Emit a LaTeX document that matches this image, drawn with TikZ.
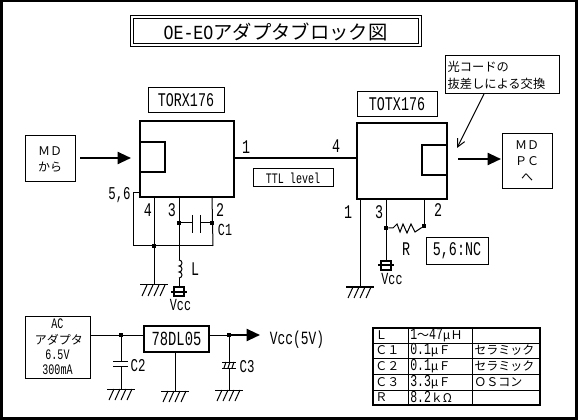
\documentclass[tikz,border=0pt]{standalone}
\usepackage{fontspec}
\usepackage{tikz}
\usetikzlibrary{arrows.meta}
\setmainfont[FakeStretch=0.69]{Liberation Mono}
\newfontfamily\wide[FakeStretch=0.83]{Liberation Mono}
\newfontfamily\jp{Noto Sans CJK JP}
\def\px{.75pt}
\newcommand{\fs}[1]{\fontsize{#1}{13}\selectfont}
\newcommand{\fsl}[2]{\fontsize{#1}{#2}\selectfont}
\tikzset{
    wire/.style={line width=\px},
    chip/.style={draw, line width=2*\px, inner sep=0pt},
    box/.style={draw, line width=\px, inner sep=0pt, align=center},
    lbl/.style={inner sep=0pt, font=\fs{14.5}},
    small/.style={inner sep=0pt, font=\fs{12.7}},
    dotnode/.style={fill, inner sep=0pt, minimum size=4*\px},
    flow/.style={line width=2*\px, -{Triangle[length=10pt,width=9pt]}},
}
\begin{document}
\begin{tikzpicture}[x=.75pt,y=-.75pt]
    \useasboundingbox (0,0) rectangle (578,420);
    \draw[line width=3*\px] (1,1) rectangle (576.5,418.5);

    % title
    \node[box, minimum width=291*\px, minimum height=31*\px] (titleouter) at (275.5,31.5) {};
    \node[box, minimum width=285*\px, minimum height=25*\px, font=\wide\fs{15}] (title) at (275.5,31.5) {OE-EO{\jp\fs{14.5}アダプタブロック図}};

    % receiver side
    \node[box, minimum width=50*\px, minimum height=46*\px, font=\jp\fsl{9}{12}] (mdin) at (50,159) {ＭＤ\\から};
    \node[box, minimum width=76*\px, minimum height=25*\px, font=\fs{14.5}] (rxname) at (186,100.5) {TORX176};
    \node[chip, minimum width=94*\px, minimum height=76*\px] (rx) at (187,159) {};
    \node[chip, minimum width=25*\px, minimum height=30*\px] (rxport) at (152.5,157) {};
    \coordinate (inS) at (80,158);
    \coordinate (inE) at (131,158);
    \draw[flow] (inS) -- (inE);

    % transmitter side
    \node[box, minimum width=80*\px, minimum height=25*\px, font=\fs{14.5}] (txname) at (397,104.5) {TOTX176};
    \node[chip, minimum width=90*\px, minimum height=76*\px] (tx) at (402,161) {};
    \node[chip, minimum width=25*\px, minimum height=30*\px] (txport) at (434.5,160) {};
    \node[box, minimum width=50*\px, minimum height=55*\px, font=\jp\fsl{9}{12}] (mdout) at (527,161.5) {ＭＤ\\ＰＣ\\へ};
    \coordinate (outS) at (458,159);
    \coordinate (outE) at (501,159);
    \draw[flow] (outS) -- (outE);
    \node[box, minimum width=114*\px, minimum height=38*\px, text width=109*\px, font=\jp\fsl{9.2}{12.8}, align=left] (note) at (502,75) {光コードの\\抜差しによる交換};
    \coordinate (noteS) at (484,94);
    \coordinate (noteE) at (457,148);
    \draw[wire,-{Straight Barb[length=6pt,width=6pt]}] (noteS) -- (noteE);

    % ttl link
    \draw[line width=2*\px] (rx.east |- 0,158.5) -- (tx.west |- 0,158.5);
    \node[box, minimum width=80*\px, minimum height=18*\px, font=\fs{10.9}] (ttl) at (293,178) {TTL level};
    \node[lbl] (pinA) at (246,147) {1};
    \node[lbl] (pinB) at (336,146) {4};

    % pins of the receiver
    \coordinate (rxfour) at (154,197);
    \coordinate (rxthree) at (179,197);
    \coordinate (rxtwo) at (212,197);
    \coordinate (rxsix) at (139,193);
    \coordinate (busL) at (133,246);
    \coordinate (busR) at (213,246);
    \coordinate (gndA) at (154,285);
    \coordinate (coilT) at (179,260);
    \coordinate (coilB) at (179,278);
    \coordinate (vccA) at (179,287);
    \coordinate (capL) at (192,223);
    \coordinate (capR) at (200,223);
    \node[dotnode] (dotC) at (179,223) {};
    \node[dotnode] (dotD) at (212,223) {};
    \node[dotnode] (dotB) at (154,246) {};
    \draw[wire] (rxfour) -- (gndA);
    \draw[wire] (rxthree) -- (coilT);
    \draw[wire] (rxtwo) -- (busR);
    \draw[wire] (rxsix) -| (busL) -- (busR);
    \draw[wire] (dotC) -- (capL);
    \draw[wire] (capR) -- (dotD);
    \draw[wire] (192,215) -- (192,233);
    \draw[wire] (200,215) -- (200,233);
    \draw[wire] (coilT) arc[start angle=-90,end angle=90,radius=3] arc[start angle=-90,end angle=90,radius=3] arc[start angle=-90,end angle=90,radius=3];
    \draw[wire] (coilB) -- (vccA);
    \node[small, font=\fs{13.5}] (lblsix) at (119.5,195) {5,6};
    \node[lbl] (lblfour) at (148,210) {4};
    \node[lbl] (lblthree) at (172,210) {3};
    \node[lbl] (lbltwo) at (220,210) {2};
    \node[small] (lblca) at (225,230) {C1};
    \node[lbl] (lblL) at (195,269) {L};
    \node[small] (vcca) at (180.5,305) {Vcc};

    % pins of the transmitter
    \coordinate (txone) at (360,199);
    \coordinate (txthree) at (386,199);
    \coordinate (txtwo) at (424,199);
    \coordinate (gndB) at (360,287);
    \coordinate (vccB) at (386,261);
    \node[dotnode] (dotE) at (386,228) {};
    \node[dotnode] (dotF) at (424,226) {};
    \draw[wire] (txone) -- (gndB);
    \draw[wire] (txthree) -- (vccB);
    \draw[wire] (txtwo) -- (dotF);
    \draw[wire] (dotE) -- (393,228) -- (397,224) -- (400,232) -- (403,224) -- (407,233) -- (411,224) -- (415,232) -- (dotF);
    \node[lbl] (lblone) at (348,212) {1};
    \node[lbl] (lblthr) at (379,212) {3};
    \node[lbl] (lbltw) at (438,210) {2};
    \node[lbl] (lblR) at (406,249) {R};
    \node[small] (vccb) at (392,279) {Vcc};
    \node[box, minimum width=62*\px, minimum height=27*\px, font=\fs{14.5}] (nc) at (457,251) {5,6:NC};

    % supply
    \node[box, minimum width=65*\px, minimum height=62*\px, font=\fsl{10.9}{11.6}] (adapter) at (57.5,347) {AC\\{\jp\fsl{9}{11.6} アダプタ}\\6.5V\\300mA};
    \node[chip, minimum width=65*\px, minimum height=26*\px, font=\fs{15}] (reg) at (176.5,339) {78DL05};
    \node[dotnode] (dotG) at (121,335) {};
    \node[dotnode] (dotH) at (229,335) {};
    \coordinate (gndC) at (121,389);
    \coordinate (gndD) at (175,391);
    \coordinate (gndE) at (229,390);
    \coordinate (vccE) at (260,335);
    \draw[wire] (adapter.east |- dotG) -- (reg.west |- dotG);
    \draw[wire] (dotG) -- (121,361) (121,366) -- (gndC);
    \draw[wire] (113,361) -- (128,361) (113,366) -- (128,366);
    \draw[wire] (reg.south -| gndD) -- (gndD);
    \draw[wire] (dotH) -- (229,362) (229,368) -- (gndE);
    \draw[wire] (222,362) -- (236,362) (222,368) -- (236,368);
    \foreach \x in {226,230,234} { \draw[wire] (\x,362) -- (\x-2,368); }
    \draw[wire] (reg.east |- dotH) -- (dotH);
    \draw[flow] (dotH) -- (vccE);
    \node[lbl, font=\fs{13.5}] (lblcb) at (138,366) {C2};
    \node[lbl, font=\fs{13.5}] (lblcc) at (247,367) {C3};
    \node[lbl, font=\fs{14}] (vccout) at (297,340) {Vcc(5V)};

    % earth marks and the Vcc terminals
    \foreach \x/\y in {154/285,360/287,121/389,175/391,229/390} {
        \draw[wire] (\x-14,\y) -- (\x+14,\y);
        \foreach \d in {-7,-1,5,11} { \draw[wire] (\x+\d,\y) -- (\x+\d-5,\y+11); }
    }
    \foreach \x/\y in {179/287,386/261} {
        \draw[line width=2*\px] (\x-5,\y) rectangle (\x+5,\y+9);
        \draw[line width=2*\px] (\x-8,\y+4.5) -- (\x+8,\y+4.5);
    }

    % parts list
    \draw[line width=1.5*\px] (373,328) rectangle (540,405);
    \foreach \y in {343,358,374,390} { \draw[wire] (373,\y) -- (540,\y); }
    \foreach \x in {408,472} { \draw[wire] (\x,328) -- (\x,405); }
    \foreach \y/\a/\b/\c in {
        335.5/Ｌ/{1{\jp\fs{9}～}47{\jp\fs{9}μＨ}}/{},
        350.5/Ｃ１/{0.1{\jp\fs{9}μＦ}}/セラミック,
        366/Ｃ２/{0.1{\jp\fs{9}μＦ}}/セラミック,
        382/Ｃ３/{3.3{\jp\fs{9}μＦ}}/ＯＳコン,
        397.5/Ｒ/{8.2{\jp\fs{9}ｋΩ}}/{}} {
        \node[inner sep=0pt, anchor=west, font=\jp\fs{9}] (partA\y) at (375,\y) {\a};
        \node[inner sep=0pt, anchor=west, font=\fs{12.5}] (partB\y) at (410,\y) {\b};
        \node[inner sep=0pt, anchor=west, font=\jp\fs{9}] (partC\y) at (474,\y) {\c};
    }
\end{tikzpicture}
\end{document}
